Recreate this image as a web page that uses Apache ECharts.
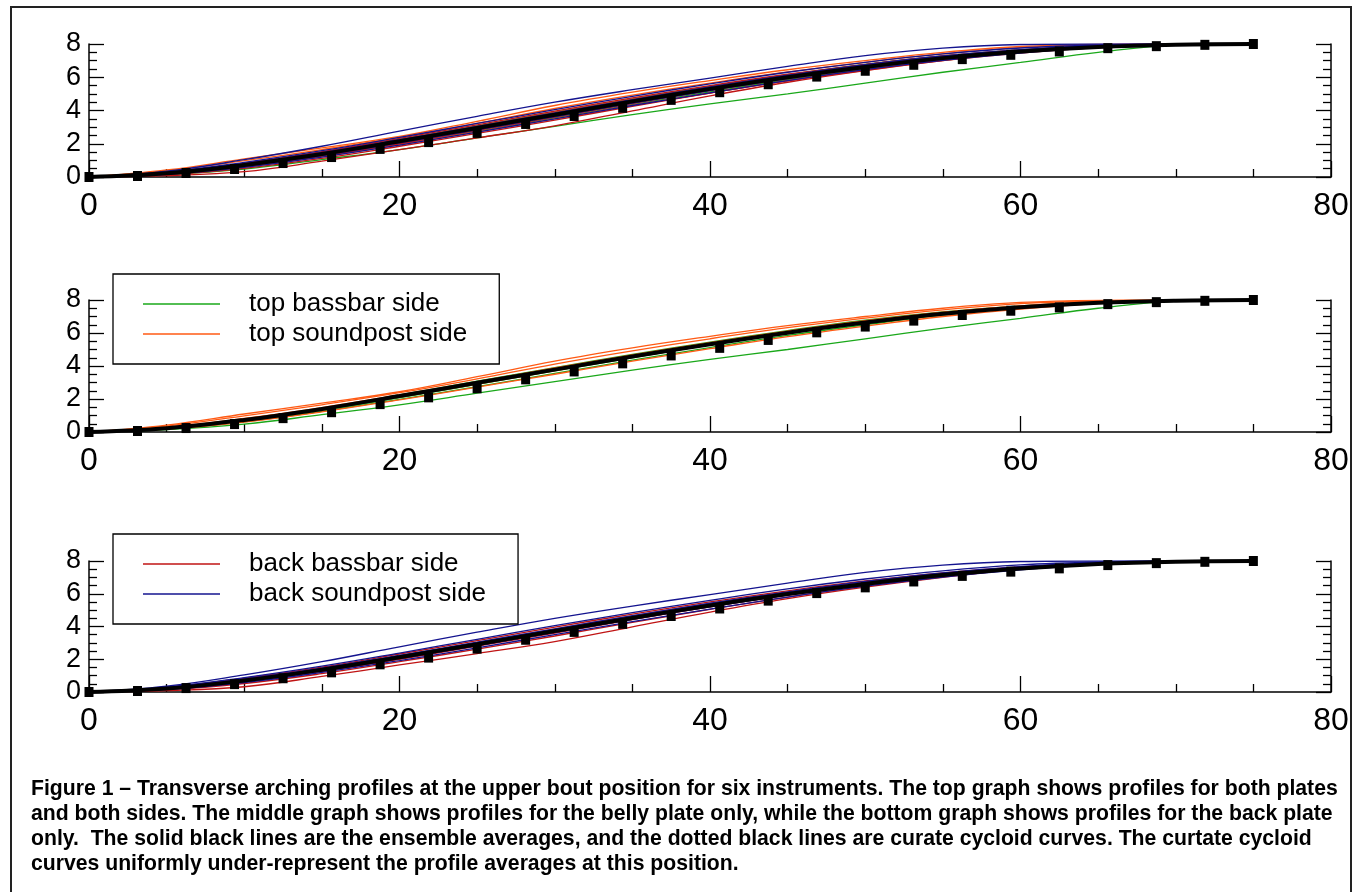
<!DOCTYPE html>
<html>
<head>
<meta charset="utf-8">
<script src="https://cdn.jsdelivr.net/npm/echarts@6/dist/echarts.min.js"></script>
<style>
html,body{margin:0;padding:0;background:#fff;}
#chart{width:1362px;height:892px;}
</style>
</head>
<body>
<div id="chart"></div>
<script>
// x positions (mm) shared by every measured profile
const xs = [0,5,10,15,20,25,30,35,40,45,50,55,60,65,70,75];

// top plate, bassbar side (green)
const topBass = [
  [0,0.15,0.48,1.05,1.65,2.35,3.05,3.75,4.40,5.00,5.65,6.30,6.89,7.50,7.93,8],
  [0,0.20,0.68,1.32,2.08,2.88,3.70,4.50,5.28,5.98,6.62,7.16,7.57,7.84,7.97,8],
  [0,0.24,0.75,1.40,2.20,3.00,3.80,4.60,5.35,6.05,6.68,7.20,7.60,7.86,7.97,8],
  [0,0.18,0.62,1.25,1.98,2.75,3.55,4.35,5.12,5.85,6.50,7.08,7.52,7.80,7.95,8],
  [0,0.22,0.72,1.36,2.12,2.92,3.74,4.54,5.30,6.00,6.64,7.18,7.58,7.85,7.97,8],
  [0,0.26,0.80,1.45,2.25,3.08,3.90,4.70,5.45,6.15,6.78,7.28,7.65,7.88,7.98,8]
];
// top plate, soundpost side (orange)
const topSound = [
  [0,0.42,1.09,1.75,2.44,3.35,4.30,5.10,5.80,6.45,7.00,7.50,7.85,7.98,8,8],
  [0,0.36,0.98,1.65,2.38,3.22,4.12,4.92,5.65,6.32,6.90,7.40,7.78,7.95,8,8],
  [0,0.28,0.82,1.48,2.25,3.05,3.88,4.68,5.42,6.12,6.75,7.27,7.65,7.88,7.98,8],
  [0,0.25,0.76,1.42,2.20,3.00,3.80,4.60,5.36,6.06,6.70,7.22,7.62,7.87,7.97,8],
  [0,0.22,0.70,1.36,2.12,2.90,3.72,4.52,5.28,5.98,6.62,7.16,7.58,7.85,7.97,8],
  [0,0.17,0.60,1.22,1.95,2.72,3.50,4.30,5.05,5.78,6.42,7.00,7.45,7.78,7.95,8]
];
// back plate, bassbar side (red)
const backBass = [
  [0,0.08,0.32,0.95,1.65,2.35,3.08,3.98,4.88,5.70,6.40,7.00,7.50,7.82,7.96,8],
  [0,0.14,0.52,1.12,1.85,2.62,3.42,4.25,5.05,5.80,6.46,7.04,7.50,7.80,7.95,8],
  [0,0.18,0.62,1.25,2.00,2.80,3.60,4.42,5.20,5.92,6.56,7.10,7.53,7.81,7.95,8],
  [0,0.21,0.70,1.35,2.12,2.92,3.72,4.52,5.28,5.98,6.60,7.14,7.55,7.82,7.96,8],
  [0,0.24,0.76,1.42,2.20,3.02,3.84,4.64,5.40,6.10,6.72,7.24,7.62,7.86,7.97,8],
  [0,0.28,0.84,1.52,2.32,3.14,3.96,4.76,5.50,6.18,6.78,7.28,7.64,7.87,7.97,8]
];
// back plate, soundpost side (blue)
const backSound = [
  [0,0.35,1.04,1.85,2.76,3.65,4.50,5.25,5.95,6.65,7.30,7.75,7.97,8,8,8],
  [0,0.30,0.88,1.58,2.38,3.22,4.05,4.85,5.60,6.30,6.90,7.40,7.76,7.94,8,8],
  [0,0.26,0.80,1.46,2.24,3.04,3.86,4.66,5.42,6.12,6.76,7.28,7.66,7.90,7.98,8],
  [0,0.22,0.72,1.38,2.15,2.95,3.76,4.56,5.32,6.04,6.68,7.22,7.62,7.87,7.97,8],
  [0,0.20,0.66,1.30,2.05,2.84,3.64,4.44,5.20,5.92,6.56,7.10,7.52,7.80,7.95,8],
  [0,0.16,0.58,1.20,1.92,2.70,3.50,4.30,5.06,5.80,6.46,7.02,7.46,7.78,7.94,8]
];
// ensemble averages (solid black)
const avgAll  = [0,0.22,0.72,1.38,2.15,2.95,3.75,4.55,5.30,6.00,6.62,7.15,7.55,7.82,7.96,8];
const avgTop  = [0,0.23,0.73,1.40,2.18,2.98,3.78,4.57,5.32,6.02,6.63,7.16,7.56,7.83,7.96,8];
const avgBack = [0,0.21,0.70,1.36,2.12,2.92,3.72,4.52,5.28,5.98,6.60,7.14,7.54,7.82,7.96,8];

// curtate cycloid (dotted black)
const cycX = [0,3.125,6.25,9.375,12.5,15.625,18.75,21.875,25,28.125,31.25,34.375,37.5,40.625,43.75,46.875,50,53.125,56.25,59.375,62.5,65.625,68.75,71.875,75];
const cycY = [0,0.06,0.24,0.48,0.84,1.20,1.69,2.10,2.65,3.19,3.67,4.16,4.64,5.10,5.58,6.04,6.39,6.75,7.09,7.35,7.55,7.75,7.87,7.95,8.0];

const xTicks = [0,20,40,60,80];
const yTicks = [0,2,4,6,8];

const captionLines = [
  "Figure 1 \u2013 Transverse arching profiles at the upper bout position for six instruments. The top graph shows profiles for both plates",
  "and both sides. The middle graph shows profiles for the belly plate only, while the bottom graph shows profiles for the back plate",
  "only.  The solid black lines are the ensemble averages, and the dotted black lines are curate cycloid curves. The curtate cycloid",
  "curves uniformly under-represent the profile averages at this position."
];

const NAMES = {
  topBass: 'top bassbar side', topSound: 'top soundpost side',
  backBass: 'back bassbar side', backSound: 'back soundpost side'
};
const COLORS = {
  topBass: '#1aa81a', topSound: '#ff5a14', backBass: '#c01414', backSound: '#14148f'
};
const FONT = "'Liberation Sans', Arial, Helvetica, sans-serif";

const pairs = (xv, yv) => yv.map((y, i) => [xv[i], y]);

const grids = [
  {left: 89, right: 31, top: 44, height: 133},
  {left: 89, right: 31, top: 300, height: 132},
  {left: 89, right: 31, top: 561, height: 131}
];

const xAxes = [], yAxes = [];
grids.forEach((g, i) => {
  xAxes.push({
    gridIndex: i, type: 'value', min: xTicks[0], max: xTicks[xTicks.length-1], interval: xTicks[1]-xTicks[0],
    axisLine: {show: true, onZero: false, lineStyle: {color: '#000', width: 1.5}},
    axisTick: {show: true, inside: true, length: 16, lineStyle: {color: '#000', width: 1.3}},
    minorTick: {show: true, splitNumber: 4, length: 8, lineStyle: {color: '#000', width: 1.3}},
    splitLine: {show: false},
    axisLabel: {fontSize: 32, color: '#000', margin: 13, fontFamily: FONT}
  });
  const yBase = {
    gridIndex: i, type: 'value', min: yTicks[0], max: yTicks[yTicks.length-1], interval: yTicks[1]-yTicks[0],
    axisLine: {show: true, onZero: false, lineStyle: {color: '#000', width: 1.5}},
    axisTick: {show: true, inside: true, length: 15, lineStyle: {color: '#000', width: 1.3}},
    minorTick: {show: true, splitNumber: 4, length: 8, lineStyle: {color: '#000', width: 1.3}},
    splitLine: {show: false}
  };
  yAxes.push(Object.assign({}, yBase, {position: 'left',
    axisLabel: {fontSize: 27, color: '#000', margin: 8, fontFamily: FONT}}));
  yAxes.push(Object.assign({}, yBase, {position: 'right', axisLabel: {show: false}}));
});

const series = [];
function addGroup(key, arr, gi) {
  arr.forEach(yv => {
    series.push({
      type: 'line', name: NAMES[key], xAxisIndex: gi, yAxisIndex: gi*2,
      data: pairs(xs, yv), smooth: 0.4, showSymbol: false, silent: true,
      lineStyle: {color: COLORS[key], width: 1.3}, itemStyle: {color: COLORS[key]}, z: 2
    });
  });
}
function addAvgAndCycloid(avg, gi) {
  series.push({
    type: 'line', name: 'average', xAxisIndex: gi, yAxisIndex: gi*2,
    data: pairs(xs, avg), smooth: 0.4, showSymbol: false, silent: true,
    lineStyle: {color: '#000', width: 4}, itemStyle: {color: '#000'}, z: 3
  });
  series.push({
    type: 'scatter', name: 'cycloid', xAxisIndex: gi, yAxisIndex: gi*2,
    data: pairs(cycX, cycY), symbol: 'rect', symbolSize: [9, 10], silent: true,
    itemStyle: {color: '#000', opacity: 1}, z: 4
  });
}
// panel 1: everything
addGroup('topBass', topBass, 0);
addGroup('topSound', topSound, 0);
addGroup('backBass', backBass, 0);
addGroup('backSound', backSound, 0);
addAvgAndCycloid(avgAll, 0);
// panel 2: belly
addGroup('topBass', topBass, 1);
addGroup('topSound', topSound, 1);
addAvgAndCycloid(avgTop, 1);
// panel 3: back
addGroup('backBass', backBass, 2);
addGroup('backSound', backSound, 2);
addAvgAndCycloid(avgBack, 2);

const legendCommon = {
  orient: 'vertical', icon: 'rect', itemWidth: 77, itemHeight: 1.5, itemGap: 4,
  padding: [17, 32, 17, 30], borderColor: '#000', borderWidth: 1.3, backgroundColor: '#fff',
  textStyle: {fontSize: 26, color: '#000', fontFamily: FONT, padding: [0, 0, 0, 24]},
  selectedMode: false, z: 10
};

const chart = echarts.init(document.getElementById('chart'), null, {renderer: 'canvas'});
chart.setOption({
  backgroundColor: '#fff',
  animation: false,
  grid: grids,
  xAxis: xAxes,
  yAxis: yAxes,
  series: series,
  legend: [
    Object.assign({}, legendCommon, {left: 113, top: 274, data: [
      {name: NAMES.topBass, itemStyle: {color: COLORS.topBass}},
      {name: NAMES.topSound, itemStyle: {color: COLORS.topSound}}
    ]}),
    Object.assign({}, legendCommon, {left: 113, top: 534, data: [
      {name: NAMES.backBass, itemStyle: {color: COLORS.backBass}},
      {name: NAMES.backSound, itemStyle: {color: COLORS.backSound}}
    ]})
  ],
  title: {
    text: captionLines.join('\n'), left: 31, top: 777, padding: 0,
    textStyle: {fontSize: 21.2, fontWeight: 'bold', color: '#000', lineHeight: 25, fontFamily: FONT}
  },
  graphic: [{
    type: 'rect', shape: {x: 11, y: 7, width: 1340, height: 900}, silent: true, z: -1,
    style: {fill: 'none', stroke: '#222', lineWidth: 2}
  }]
});
</script>
</body>
</html>
